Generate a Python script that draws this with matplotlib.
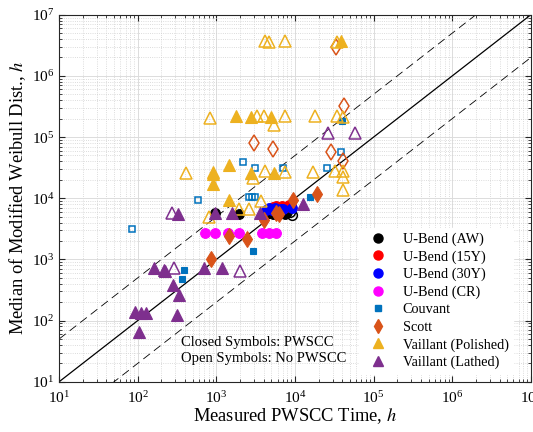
import matplotlib
matplotlib.use("Agg")
import matplotlib.pyplot as plt
from matplotlib.lines import Line2D
import numpy as np

plt.rcParams["font.family"] = ["Liberation Serif", "DejaVu Serif"]
plt.rcParams["mathtext.fontset"] = "stix"

# U-Bend (AW)
aw_x = [962, 1950, 4500, 4900, 5300, 5800, 6300, 6900, 7500, 8000]
aw_y = [5690, 5550, 5700, 5900, 5600, 5800, 5500, 5700, 5600, 5900]
aw_open_x = [8600, 9200]
aw_open_y = [5900, 5300]

# U-Bend (15Y)
y15_x = [5300, 5800, 6300, 6900, 7600, 8300]
y15_y = [7200, 7600, 7000, 7500, 7300, 7800]
y15_open_x = [8900]
y15_open_y = [7400]

# U-Bend (30Y)
y30_x = [4300, 4700, 5100, 5600, 6100, 6700, 7100, 9100]
y30_y = [6300, 6800, 6500, 6900, 6400, 6700, 6600, 6900]

# U-Bend (CR)
cr_x = [718, 962, 1420, 1950, 3790, 4730, 5770]
cr_y = [2740, 2740, 2740, 2740, 2740, 2740, 2740]

# Couvant
couv_x = [2960, 388, 369, 15300, 39700]
couv_y = [1390, 673, 480, 10600, 183000]
couv_open_x = [84, 585, 2590, 2830, 3100, 2170, 3110, 7010, 25500, 38000]
couv_open_y = [3150, 9380, 10400, 10400, 10400, 39200, 30900, 31000, 31000, 56500]

# Scott
scott_x = [19000, 9300, 4020, 2480, 1440, 856, 6170, 5700]
scott_y = [11800, 9380, 4420, 2190, 2420, 1007, 5540, 5800]
scott_open_x = [33100, 3000, 5270, 28900, 41100, 42000]
scott_open_y = [3.0e6, 79000, 65000, 56500, 40700, 326000]

# Vaillant (Polished)
pol_x = [37900, 1750, 2770, 4930, 1440, 916, 916, 916, 2770, 5340, 1450]
pol_y = [3.7e6, 224000, 216000, 216000, 35000, 25000, 27000, 17000, 26200, 26200, 9380]
pol_open_x = [4170, 4730, 7500, 33900, 824, 3270, 4070, 5480, 7500, 17700, 33800,
              40300, 411, 2900, 4170, 7500, 17100, 32700, 40300, 41100, 41100,
              3670, 2630, 1960, 815]
pol_open_y = [3.76e6, 3.58e6, 3.7e6, 3.6e6, 203000, 220000, 220000, 160000, 220000,
              219000, 217000, 210000, 25600, 21700, 27900, 27200, 27000, 28000,
              28000, 22000, 13700, 9120, 6760, 6760, 4900]

# Vaillant (Lathed)
lat_x = [160, 215, 225, 283, 335, 692, 1180, 92, 109, 127, 313, 104, 328, 962,
         1570, 3600, 12500]
lat_y = [718, 670, 640, 383, 263, 718, 718, 140, 132, 132, 124, 66, 5550, 5690,
         5690, 5690, 8070]
lat_open_x = [289, 2000, 275, 26200, 58500]
lat_open_y = [718, 656, 5690, 115000, 115000]

c_couv = "#0072BD"
c_scott = "#D95319"
c_pol = "#EDB120"
c_lat = "#7E2F8E"

fig = plt.figure(figsize=(5.33, 4.32), dpi=100)
ax = fig.add_axes([0.111, 0.1164, 0.885, 0.8495])

lims = np.array([10, 1e7])
ax.plot(lims, lims, "k-", lw=0.9, zorder=2)
ax.plot(lims, lims * 5, color="k", ls=(0, (10, 6)), lw=0.6, zorder=2)
ax.plot(lims, lims / 5, color="k", ls=(0, (10, 6)), lw=0.6, zorder=2)

def closed(x, y, m, c, s):
    ax.plot(x, y, ls="none", marker=m, ms=s, mfc=c, mec=c, mew=0.8, zorder=3)

def opened(x, y, m, c, s):
    ax.plot(x, y, ls="none", marker=m, ms=s, mfc="none", mec=c, mew=1.1, zorder=3)

ms_o, ms_s, ms_d, ms_t = 7, 5, 7.8, 8

closed(aw_x, aw_y, "o", "k", ms_o)
opened(aw_open_x, aw_open_y, "o", "k", ms_o)
closed(y15_x, y15_y, "o", "r", ms_o)
opened(y15_open_x, y15_open_y, "o", "r", ms_o)
closed(y30_x, y30_y, "o", "b", ms_o)
closed(cr_x, cr_y, "o", "#FF00FF", ms_o)
closed(couv_x, couv_y, "s", c_couv, ms_s)
opened(couv_open_x, couv_open_y, "s", c_couv, ms_s)
closed(scott_x, scott_y, "d", c_scott, ms_d)
opened(scott_open_x, scott_open_y, "d", c_scott, ms_d)
closed(pol_x, pol_y, "^", c_pol, ms_t)
opened(pol_open_x, pol_open_y, "^", c_pol, ms_t)
closed(lat_x, lat_y, "^", c_lat, ms_t)
opened(lat_open_x, lat_open_y, "^", c_lat, ms_t)

ax.set_xscale("log")
ax.set_yscale("log")
ax.set_xlim(lims)
ax.set_ylim(lims)

ax.grid(which="major", color="#dcdcdc", lw=0.7, zorder=0)
ax.grid(which="minor", color="#d0d0d0", lw=0.6, ls=":", zorder=0)
ax.set_axisbelow(True)
ax.tick_params(which="both", direction="in", top=True, right=True, labelsize=11,
               color="#262626")
ax.tick_params(which="major", length=4)
ax.tick_params(which="minor", length=2.2)
ax.tick_params(axis="x", pad=6)
for sp in ax.spines.values():
    sp.set_linewidth(0.8)
    sp.set_color("#262626")

ax.set_xlabel("Measured PWSCC Time, $h$", fontsize=13.3, labelpad=0.5)
ax.set_ylabel("Median of Modified Weibull Dist., $h$", fontsize=13.3, labelpad=3)

handles = [
    Line2D([], [], ls="none", marker="o", ms=6.5, mfc="k", mec="k"),
    Line2D([], [], ls="none", marker="o", ms=6.5, mfc="r", mec="r"),
    Line2D([], [], ls="none", marker="o", ms=6.5, mfc="b", mec="b"),
    Line2D([], [], ls="none", marker="o", ms=6.5, mfc="#FF00FF", mec="#FF00FF"),
    Line2D([], [], ls="none", marker="s", ms=4.5, mfc=c_couv, mec=c_couv),
    Line2D([], [], ls="none", marker="d", ms=7.5, mfc=c_scott, mec=c_scott),
    Line2D([], [], ls="none", marker="^", ms=7, mfc=c_pol, mec=c_pol),
    Line2D([], [], ls="none", marker="^", ms=7, mfc=c_lat, mec=c_lat),
]
labels = ["U-Bend (AW)", "U-Bend (15Y)", "U-Bend (30Y)", "U-Bend (CR)", "Couvant",
          "Scott", "Vaillant (Polished)", "Vaillant (Lathed)"]
leg = ax.legend(handles, labels, loc="lower right", bbox_to_anchor=(0.962, 0.022),
                borderaxespad=0, fontsize=10.3, frameon=True, fancybox=False,
                edgecolor="white", facecolor="white", framealpha=1,
                labelspacing=0.3, handletextpad=0.75, borderpad=0.3)

ax.text(0.258, 0.085, "Closed Symbols: PWSCC\nOpen Symbols: No PWSCC",
        transform=ax.transAxes, fontsize=10.5, va="center", ha="left",
        linespacing=1.3)

fig.savefig("out.png", dpi=100)
